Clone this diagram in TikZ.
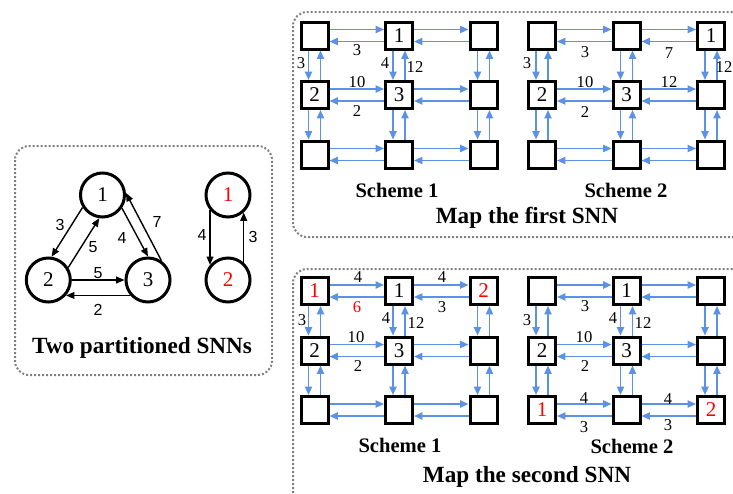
\documentclass[tikz,border=0pt]{standalone}
\usepackage{fontspec}
\setmainfont{Liberation Serif}
\newfontfamily\labfont{Liberation Sans}
\usetikzlibrary{arrows.meta,calc}
\definecolor{linkblue}{RGB}{91,146,229}
\definecolor{mapred}{RGB}{255,0,0}
\definecolor{framegray}{RGB}{128,128,128}

\tikzset{
  core/.style={draw, line width=1.5pt, minimum size=13.5pt, inner sep=0pt},
  cnum/.style={inner sep=0pt, font=\fontsize{10.5}{10.5}\selectfont},
  neuron/.style={circle, draw, line width=1.5pt, minimum size=22pt, inner sep=0pt,
    font=\fontsize{10.5}{10.5}\selectfont},
  link/.style={linkblue, line width=0.8pt, -{Triangle[length=4.2pt,width=3.6pt]}},
  syn/.style={black, line width=0.7pt, -{Triangle[length=4.2pt,width=3.4pt]}},
  wt/.style={inner sep=0pt, font=\fontsize{8.3}{8.3}\selectfont},
  swt/.style={inner sep=0pt, font=\labfont\fontsize{8}{8}\selectfont},
  frame/.style={framegray, line width=1pt, dash pattern=on 1pt off 1pt, rounded corners=7pt},
  scheme/.style={font=\bfseries\fontsize{10.3}{10.3}\selectfont},
  title/.style={font=\bfseries\fontsize{11.6}{11.6}\selectfont}
}

\begin{document}
\begin{tikzpicture}[x=0.5pt, y=-0.5pt]
    \path[use as bounding box, clip] (0,0) rectangle (733,493);

    % frames
    \draw[frame] (15,146) rectangle (272,375);
    \draw[frame] (293,12) rectangle (760,237);
    \draw[frame] (293,269) rectangle (760,520);

    % two partitioned SNNs
    \node[neuron] (p1) at (102.5,195) {1};
    \node[neuron] (p2) at (48.3,280) {2};
    \node[neuron] (p3) at (148,280) {3};
    \node[neuron, text=mapred] (q1) at (228,195) {1};
    \node[neuron, text=mapred] (q2) at (228,280) {2};
    \draw[syn] (p1.212) -- (p2.82);
    \draw[syn] (p2.32) -- (p1.262);
    \draw[syn] (p1.326) -- (p3.90);
    \draw[syn] (p3.55) -- (p1.5);
    \draw[syn] (p2.east) -- (p3.west);
    \draw[syn] (p3.221) -- (p2.319);
    \draw[syn] (q1.220) -- (q2.140);
    \draw[syn] (q2.48) -- (q1.312);
    \node[swt] (w1) at (60,225) {3};
    \node[swt] (w2) at (93,247) {5};
    \node[swt] (w3) at (122,238) {4};
    \node[swt] (w4) at (157,222) {7};
    \node[swt] (w5) at (98,273) {5};
    \node[swt] (w6) at (98,310) {2};
    \node[swt] (w7) at (202,235) {4};
    \node[swt] (w8) at (253,237) {3};
    \node[title] (t0) at (142,348) {Two partitioned SNNs};

    % the four meshes
    \foreach \g/\gx/\gy in {a/314.5/35.5, b/542/35.5, c/314.5/291, d/542/291}{
      \foreach \r in {0,1,2}{
        \foreach \c in {0,1,2}{
          \node[core] (\g\r\c) at (\gx+84.5*\c, \gy+59.5*\r) {};
        }
      }
      \foreach \r in {0,1,2}{
        \foreach \c/\cn in {0/1,1/2}{
          \draw[link] ([yshift=3pt]\g\r\c.east) -- ([yshift=3pt]\g\r\cn.west);
          \draw[link] ([yshift=-3pt]\g\r\cn.west) -- ([yshift=-3pt]\g\r\c.east);
        }
      }
      \foreach \r/\rn in {0/1,1/2}{
        \foreach \c in {0,1,2}{
          \draw[link] ([xshift=-3pt]\g\r\c.south) -- ([xshift=-3pt]\g\rn\c.north);
          \draw[link] ([xshift=3pt]\g\rn\c.north) -- ([xshift=3pt]\g\r\c.south);
        }
      }
    }

    % first SNN, scheme 1
    \node[cnum] (a01t) at (a01) {1};
    \node[cnum] (a10t) at (a10) {2};
    \node[cnum] (a11t) at (a11) {3};
    \node[wt] (aw1) at (357,50) {3};
    \node[wt] (aw2) at (301,63) {3};
    \node[wt] (aw3) at (385,63) {4};
    \node[wt] (aw4) at (415,67) {12};
    \node[wt] (aw5) at (357,82) {10};
    \node[wt] (aw6) at (357,111) {2};
    \node[scheme] (as) at (397,190) {Scheme 1};

    % first SNN, scheme 2
    \node[cnum] (b02t) at (b02) {1};
    \node[cnum] (b10t) at (b10) {2};
    \node[cnum] (b11t) at (b11) {3};
    \node[wt] (bw1) at (585,52) {3};
    \node[wt] (bw2) at (669,53) {7};
    \node[wt] (bw3) at (527,63) {3};
    \node[wt] (bw4) at (724,67) {12};
    \node[wt] (bw5) at (585,82) {10};
    \node[wt] (bw6) at (669,82) {12};
    \node[wt] (bw7) at (585,112) {2};
    \node[scheme] (bs) at (626,190) {Scheme 2};
    \node[title] (t1) at (527,218) {Map the first SNN};

    % second SNN, scheme 1
    \node[cnum, text=mapred] (c00t) at (c00) {1};
    \node[cnum] (c01t) at (c01) {1};
    \node[cnum, text=mapred] (c02t) at (c02) {2};
    \node[cnum] (c10t) at (c10) {2};
    \node[cnum] (c11t) at (c11) {3};
    \node[wt] (cw1) at (358,277) {4};
    \node[wt, text=mapred] (cw2) at (357,307) {6};
    \node[wt] (cw3) at (442,277) {4};
    \node[wt] (cw4) at (442,307) {3};
    \node[wt] (cw5) at (302,320) {3};
    \node[wt] (cw6) at (386,318) {4};
    \node[wt] (cw7) at (416,323) {12};
    \node[wt] (cw8) at (356,337) {10};
    \node[wt] (cw9) at (358,366) {2};
    \node[scheme] (cs) at (400,445) {Scheme 1};

    % second SNN, scheme 2
    \node[cnum] (d01t) at (d01) {1};
    \node[cnum] (d10t) at (d10) {2};
    \node[cnum] (d11t) at (d11) {3};
    \node[cnum, text=mapred] (d20t) at (d20) {1};
    \node[cnum, text=mapred] (d22t) at (d22) {2};
    \node[wt] (dw1) at (585,306) {3};
    \node[wt] (dw2) at (527,320) {3};
    \node[wt] (dw3) at (613,318) {4};
    \node[wt] (dw4) at (643,323) {12};
    \node[wt] (dw5) at (584,337) {10};
    \node[wt] (dw6) at (585,366) {2};
    \node[wt] (dw7) at (584,398) {4};
    \node[wt] (dw8) at (584,427) {3};
    \node[wt] (dw9) at (668,399) {4};
    \node[wt] (dw10) at (668,425) {3};
    \node[scheme] (ds) at (632,446) {Scheme 2};
    \node[title] (t2) at (527,477) {Map the second SNN};
\end{tikzpicture}
\end{document}
